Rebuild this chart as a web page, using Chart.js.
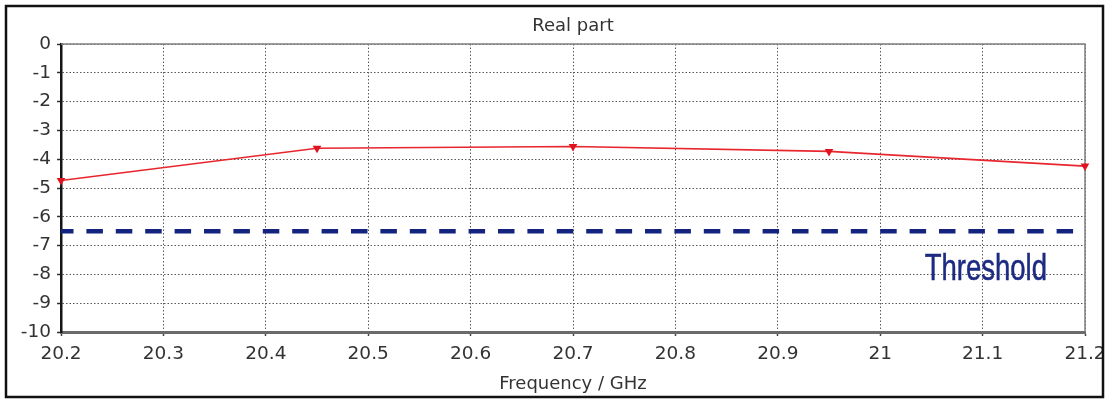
<!DOCTYPE html>
<html>
<head>
<meta charset="utf-8">
<script src="https://cdn.jsdelivr.net/npm/chart.js@4/dist/chart.umd.min.js"></script>
<style>
  html, body { margin: 0; padding: 0; background: #ffffff; }
  #wrap { width: 1106px; height: 400px; position: relative; }
</style>
</head>
<body>
<div id="wrap"><canvas id="chart" width="1106" height="400"></canvas></div>
<script>
// Frequency sweep (GHz) and the real part sampled at each marker
const frequency = [20.2, 20.45, 20.7, 20.95, 21.2];
const realPart = [-4.74, -3.62, -3.56, -3.73, -4.24];

// Threshold level drawn across the whole band
const thresholdFreq = [20.2, 21.2];
const thresholdLevel = [-6.5, -6.5];
const thresholdText = 'Threshold';

// Axis tick values
const xTicks = [20.2, 20.3, 20.4, 20.5, 20.6, 20.7, 20.8, 20.9, 21.0, 21.1, 21.2];
const yTicks = [0, -1, -2, -3, -4, -5, -6, -7, -8, -9, -10];

const FONT = 'DejaVu Sans';

// White page with a black frame around the whole figure
const outerFrame = {
  id: 'outerFrame',
  beforeDraw(chart) {
    const ctx = chart.ctx;
    ctx.save();
    ctx.fillStyle = '#ffffff';
    ctx.fillRect(0, 0, chart.width, chart.height);
    ctx.restore();
  },
  afterDraw(chart) {
    const ctx = chart.ctx;
    ctx.save();
    ctx.strokeStyle = '#111111';
    ctx.lineWidth = 2.5;
    ctx.strokeRect(6, 6, chart.width - 9, chart.height - 9);
    ctx.restore();
  }
};

// Grey box on the top and right of the plot area
const plotFrame = {
  id: 'plotFrame',
  beforeDatasetsDraw(chart) {
    const { ctx, chartArea: a } = chart;
    ctx.save();
    ctx.strokeStyle = '#808080';
    ctx.lineWidth = 1.5;
    ctx.beginPath();
    ctx.moveTo(a.left, a.top);
    ctx.lineTo(a.right, a.top);
    ctx.lineTo(a.right, a.bottom);
    ctx.stroke();
    ctx.restore();
  }
};

// Label placed under the threshold line, near the right edge
const thresholdLabel = {
  id: 'thresholdLabel',
  afterDatasetsDraw(chart) {
    const { ctx, chartArea: a, scales } = chart;
    const y = scales.y.getPixelForValue(thresholdLevel[0]) + 49;
    ctx.save();
    ctx.translate(a.right - 38, y);
    ctx.scale(1, 1.35);
    ctx.font = '27.5px "Liberation Sans"';
    ctx.fillStyle = '#1c2a82';
    ctx.strokeStyle = '#1c2a82';
    ctx.lineWidth = 0.4;
    ctx.textAlign = 'right';
    ctx.textBaseline = 'alphabetic';
    ctx.fillText(thresholdText, 0, 0);
    ctx.strokeText(thresholdText, 0, 0);
    ctx.restore();
  }
};

new Chart(document.getElementById('chart'), {
  type: 'line',
  data: {
    datasets: [
      {
        label: 'Real part',
        data: frequency.map((f, i) => ({ x: f, y: realPart[i] })),
        borderColor: '#e8262e',
        borderWidth: 1.6,
        tension: 0,
        pointStyle: 'triangle',
        rotation: 180,
        pointRadius: 5,
        pointBackgroundColor: '#e0141e',
        pointBorderColor: '#e0141e',
        pointBorderWidth: 0,
        clip: false,
        order: 1
      },
      {
        label: thresholdText,
        data: thresholdFreq.map((f, i) => ({ x: f, y: thresholdLevel[i] })),
        borderColor: '#13237e',
        borderWidth: 4.5,
        borderDash: [16.5, 12.9],
        borderDashOffset: 4,
        pointRadius: 0,
        tension: 0,
        clip: false,
        order: 2
      }
    ]
  },
  options: {
    responsive: false,
    animation: false,
    devicePixelRatio: 1,
    layout: { padding: { top: 0, right: 21, bottom: 0, left: 0 } },
    plugins: {
      legend: { display: false },
      tooltip: { enabled: false },
      title: {
        display: true,
        text: 'Real part',
        fullSize: false,
        color: '#333333',
        font: { family: FONT, size: 18, weight: 'normal', lineHeight: 1.2 },
        padding: { top: 16, bottom: 6.4 }
      }
    },
    scales: {
      x: {
        type: 'linear',
        min: xTicks[0],
        max: xTicks[xTicks.length - 1],
        afterBuildTicks(scale) {
          scale.ticks = xTicks.map(v => ({ value: v }));
        },
        afterFit(scale) {
          scale.height = 68;
          scale.paddingLeft = 0;
          scale.paddingRight = 0;
        },
        ticks: {
          color: '#333333',
          font: { family: FONT, size: 18.5, lineHeight: 1.2 },
          padding: 7,
          maxRotation: 0,
          autoSkip: false,
          callback: v => String(Number(v.toFixed(1)))
        },
        grid: {
          color: '#5a5a5a',
          lineWidth: 1,
          tickLength: 4,
          tickColor: '#444444',
          tickWidth: 1.5
        },
        border: { display: true, color: '#6a6a6a', width: 3, dash: [1.5, 2] },
        title: {
          display: true,
          text: 'Frequency / GHz',
          color: '#333333',
          font: { family: FONT, size: 18, lineHeight: 1.2 },
          padding: { top: 0, bottom: 5 }
        }
      },
      y: {
        type: 'linear',
        min: yTicks[yTicks.length - 1],
        max: yTicks[0],
        afterBuildTicks(scale) {
          scale.ticks = yTicks.map(v => ({ value: v }));
        },
        afterFit(scale) {
          scale.width = 61;
          scale.paddingTop = 0;
          scale.paddingBottom = 0;
        },
        ticks: {
          color: '#333333',
          font: { family: FONT, size: 18.5, lineHeight: 1.2 },
          padding: 6,
          autoSkip: false,
          callback: v => String(v)
        },
        grid: {
          color: '#5a5a5a',
          lineWidth: 1,
          tickLength: 4,
          tickColor: '#333333',
          tickWidth: 1.5
        },
        border: { display: true, color: '#151515', width: 2.5, dash: [1.5, 2] }
      }
    }
  },
  plugins: [outerFrame, plotFrame, thresholdLabel]
});
</script>
</body>
</html>
